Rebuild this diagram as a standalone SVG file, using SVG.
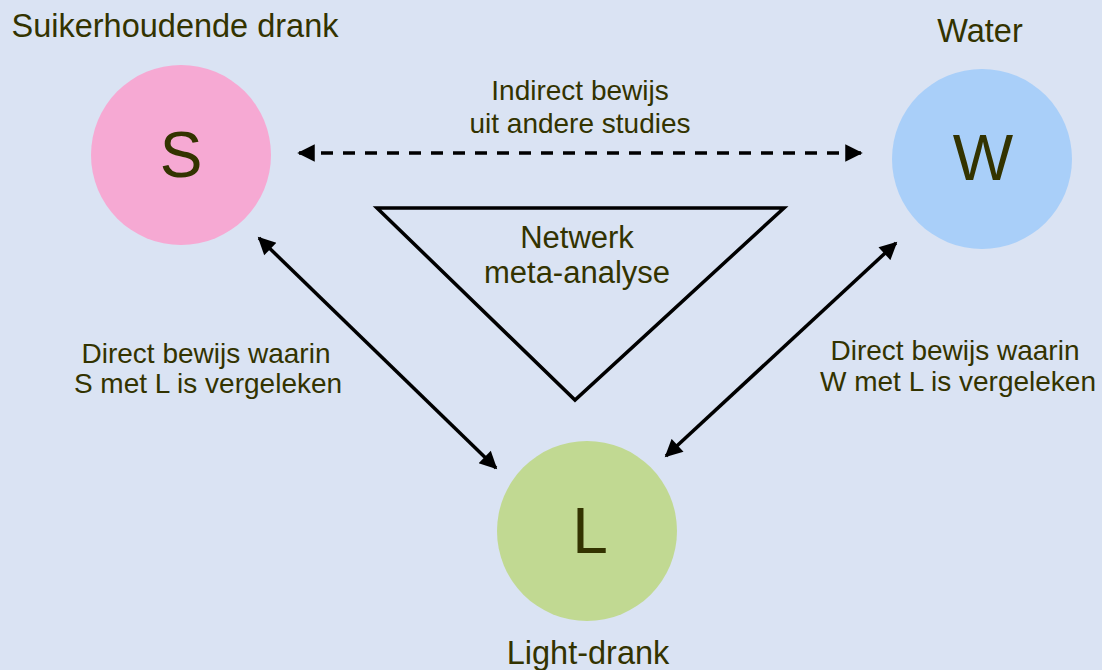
<svg xmlns="http://www.w3.org/2000/svg" width="1102" height="670" viewBox="0 0 1102 670">
<defs>
<marker id="ah" viewBox="0 0 10 10" refX="9" refY="5" markerWidth="5.5" markerHeight="5" orient="auto-start-reverse" markerUnits="strokeWidth">
<path d="M0,0 L10,5 L0,10 Z" fill="#000"/>
</marker>
<style>
.t{font-family:"Liberation Sans",Arial,sans-serif;fill:#333300;text-anchor:middle}
.big{font-size:64px}
.lab{font-size:32.5px}
.sm{font-size:28px}
.mid{font-size:31px}
.con{stroke:#000;stroke-width:3.5;fill:none}
</style>
</defs>
<rect width="1102" height="670" fill="#dae3f3"/>
<g id="node-S">
<circle cx="181" cy="155" r="90" fill="#f6a9d3"/>
<text class="t big" x="181" y="177">S</text>
<text class="t lab" x="175" y="37">Suikerhoudende drank</text>
</g>
<g id="node-W">
<circle cx="982" cy="159" r="90" fill="#a9cff9"/>
<text class="t big" x="983" y="180">W</text>
<text class="t lab" x="980" y="42">Water</text>
</g>
<g id="node-L">
<circle cx="587" cy="531" r="90" fill="#c1d992"/>
<text class="t big" x="590" y="553">L</text>
<text class="t lab" x="588" y="664">Light-drank</text>
</g>
<g id="node-meta">
<polygon points="377,208 784,208 575,400" fill="none" stroke="#000" stroke-width="3.5"/>
<text class="t mid" x="577" y="248">Netwerk</text>
<text class="t mid" x="577" y="283">meta-analyse</text>
</g>
<g id="connectors">
<line class="con" x1="299" y1="153" x2="861" y2="153" stroke-dasharray="12,10" marker-start="url(#ah)" marker-end="url(#ah)"/>
<line class="con" x1="259" y1="238" x2="496" y2="468" marker-start="url(#ah)" marker-end="url(#ah)"/>
<line class="con" x1="896" y1="243" x2="666" y2="456" marker-start="url(#ah)" marker-end="url(#ah)"/>
</g>
<g id="labels">
<text class="t sm" x="580" y="100">Indirect bewijs</text>
<text class="t sm" x="580" y="133">uit andere studies</text>
<text class="t sm" x="206" y="363">Direct bewijs waarin</text>
<text class="t sm" x="208" y="393">S met L is vergeleken</text>
<text class="t sm" x="955" y="360">Direct bewijs waarin</text>
<text class="t sm" x="958" y="391">W met L is vergeleken</text>
</g>
</svg>
